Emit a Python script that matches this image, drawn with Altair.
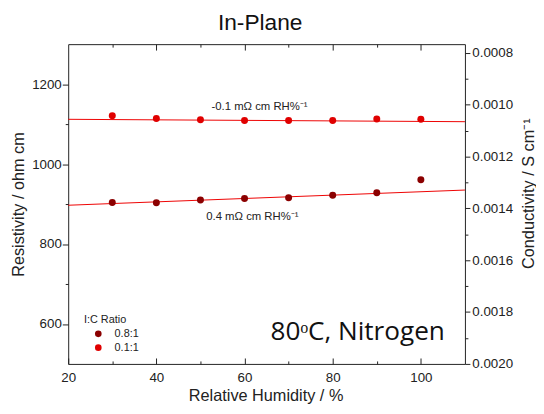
import altair as alt
import pandas as pd

# ---------------- data ----------------
rh = [30, 40, 50, 60, 70, 80, 90, 100]
res_08 = [904, 903, 910, 914, 916, 922, 928, 961]
res_01 = [1121, 1114, 1111, 1109, 1109, 1109, 1113, 1112]
ratio_labels = ["0.8:1", "0.1:1"]
ratio_colors = ["#8b0000", "#e00000"]

fit_rh = [20, 110]
fit_08 = [897, 935]
fit_01 = [1112, 1106]

x_major = [20, 40, 60, 80, 100]
x_top_major = [40, 60, 80, 100]
x_minor = [30, 50, 70, 90]
res_major = [600, 800, 1000, 1200]
res_minor = [700, 900, 1100]
cond_major = [0.0008, 0.0010, 0.0012, 0.0014, 0.0016, 0.0018, 0.0020]
cond_minor = [0.0009, 0.0011, 0.0013, 0.0015, 0.0017, 0.0019]

ann_text = ["-0.1 m\u03a9 cm RH%\u207b\u00b9", "0.4 m\u03a9 cm RH%\u207b\u00b9"]
ann_rh = [52.5, 51.3]
ann_res = [1136, 860.5]

big_text = ["80\u1d52C, Nitrogen"]
big_rh = [65.9]
big_res = [560]

chart_title = "In-Plane"

# ---------------- styles ----------------
FONT = "Liberation Sans"
INK = "#222222"
W, H = 402, 324

xs = alt.Scale(domain=[20, 110], nice=False, zero=False)
ys = alt.Scale(domain=[500, 1300], nice=False, zero=False)
cs = alt.Scale(domain=[0.000767, 0.002], nice=False, zero=False, reverse=True)


def tick_axis(orient, values, size, inward=False, **kw):
    ts = alt.ExprRef(expr=str(-size)) if inward else size
    opts = dict(orient=orient, values=values, tickSize=ts, labels=False,
                title=None, domain=False, grid=False, tickColor=INK)
    opts.update(kw)
    return alt.Axis(**opts)


pts = pd.DataFrame({
    "rh": rh + rh,
    "res": res_08 + res_01,
    "ratio": [ratio_labels[0]] * len(rh) + [ratio_labels[1]] * len(rh),
})
fit = pd.DataFrame({
    "rh": fit_rh + fit_rh,
    "res": fit_08 + fit_01,
    "series": [ratio_labels[0]] * 2 + [ratio_labels[1]] * 2,
})

# top edge: inward major ticks, plus the chart title
fit_layer = alt.Chart(fit).mark_line(color="#ee0000", strokeWidth=1).encode(
    x=alt.X("rh:Q", scale=xs, axis=tick_axis(
        "top", x_top_major, 6, inward=True, title=chart_title,
        titleX=194, titleY=-15, titleFontSize=23, titleFont=FONT,
        titleFontWeight="normal", titleColor="#111111",
        titleBaseline="alphabetic", titleAlign="center")),
    y=alt.Y("res:Q", scale=ys, axis=tick_axis("left", res_minor, 3)),
    detail="series:N",
)

points = alt.Chart(pts).mark_circle(size=50, opacity=1).encode(
    x=alt.X("rh:Q", scale=xs, axis=alt.Axis(
        orient="bottom", title="Relative Humidity / %", values=x_major,
        ticks=False, tickSize=0, labelPadding=7, domain=False, grid=False,
        titleX=200, titleY=37, titleBaseline="alphabetic", titleAlign="center")),
    y=alt.Y("res:Q", scale=ys, axis=alt.Axis(
        orient="left", title="Resistivity / ohm cm", values=res_major,
        format="d", tickSize=6, labelPadding=1, domain=False, grid=False,
        titleAngle=270, titleX=-45, titleY=H / 2, titleBaseline="alphabetic",
        titleAlign="center")),
    color=alt.Color("ratio:N", scale=alt.Scale(domain=ratio_labels, range=ratio_colors),
                    legend=alt.Legend(
                        title="I:C Ratio", orient="none", legendX=16, legendY=274,
                        titleFont=FONT, titleFontSize=11, titleFontWeight="normal",
                        titleColor=INK, labelFont=FONT, labelFontSize=11,
                        labelColor=INK, symbolType="circle", symbolSize=45,
                        symbolOffset=9, labelOffset=11, rowPadding=2,
                        titlePadding=3, padding=0, symbolStrokeWidth=0)),
)

ann_top = alt.Chart(pd.DataFrame({"rh": [ann_rh[0]], "res": [ann_res[0]], "t": [ann_text[0]]})).mark_text(
    align="left", baseline="alphabetic", font=FONT, fontSize=11.5, color=INK
).encode(
    x=alt.X("rh:Q", scale=xs, axis=tick_axis("bottom", x_major, 6, inward=True)),
    y=alt.Y("res:Q", scale=ys, axis=None),
    text="t:N",
)

ann_bot = alt.Chart(pd.DataFrame({"rh": [ann_rh[1]], "res": [ann_res[1]], "t": [ann_text[1]]})).mark_text(
    align="left", baseline="alphabetic", font=FONT, fontSize=11.5, color=INK
).encode(
    x=alt.X("rh:Q", scale=xs, axis=tick_axis("bottom", x_minor, 3, inward=True)),
    y=alt.Y("res:Q", scale=ys, axis=None),
    text="t:N",
)

big = alt.Chart(pd.DataFrame({"rh": big_rh, "res": big_res, "t": big_text})).mark_text(
    align="left", baseline="alphabetic", font="Open Sans", fontSize=26.5, color="#111111"
).encode(
    x=alt.X("rh:Q", scale=xs, axis=tick_axis("top", x_minor, 3, inward=True)),
    y=alt.Y("res:Q", scale=ys, axis=None),
    text="t:N",
)

cond_maj_layer = alt.Chart(pd.DataFrame({"c": cond_major})).mark_point(opacity=0).encode(
    y=alt.Y("c:Q", scale=cs, axis=alt.Axis(
        orient="right", title="Conductivity / S cm\u207b\u00b9", values=cond_major,
        format=".4f", tickSize=5, labelPadding=2, domain=False, grid=False,
        titleAngle=270, titleX=69, titleY=151, titleBaseline="alphabetic",
        titleAlign="center")),
)
cond_min_layer = alt.Chart(pd.DataFrame({"c": cond_minor})).mark_point(opacity=0).encode(
    y=alt.Y("c:Q", scale=cs, axis=tick_axis("right", cond_minor, 3)),
)

chart = alt.layer(
    fit_layer, points, ann_top, ann_bot, big, cond_maj_layer, cond_min_layer
).resolve_scale(
    y="independent"
).resolve_axis(
    x="independent", y="independent"
).properties(
    width=W, height=H,
    autosize=alt.AutoSizeParams(type="none"),
    padding={"left": 61, "top": 34, "right": 72, "bottom": 40},
).configure_view(
    stroke=INK, strokeWidth=1
).configure_axis(
    labelFont=FONT, labelFontSize=13.5, labelColor=INK,
    titleFont=FONT, titleFontSize=16.5, titleFontWeight="normal", titleColor=INK,
    tickColor=INK, tickWidth=1, labelFlush=False, labelOverlap=False, grid=False,
)

chart.save("out.html", embed_options={"renderer": "svg", "actions": False})
